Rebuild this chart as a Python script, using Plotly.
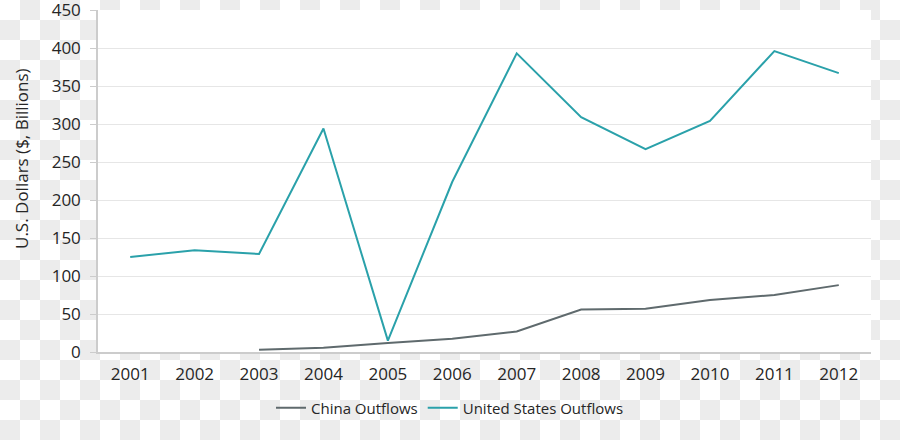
import base64
import plotly.graph_objects as go

years = ["2001", "2002", "2003", "2004", "2005", "2006", "2007", "2008", "2009", "2010", "2011", "2012"]
china_outflows = [None, None, 3, 5.5, 12, 17.5, 27, 56, 57, 68.5, 75, 88]
us_outflows = [125, 134, 129, 294, 15, 224, 393, 309, 267, 304, 396, 367]
y_ticks = [0, 50, 100, 150, 200, 250, 300, 350, 400, 450]

FONT = "Open Sans"
W, H = 900, 440
ML, MR, MT, MB = 98, 29, 10, 88
PW, PH = W - ML - MR, H - MT - MB

svg = ('<svg xmlns="http://www.w3.org/2000/svg" width="900" height="440">'
       '<defs><pattern id="p" x="0" y="0" width="40" height="40" patternUnits="userSpaceOnUse">'
       '<rect width="40" height="40" fill="#ffffff"/>'
       '<rect x="20" y="0" width="20" height="20" fill="#ececec"/>'
       '<rect x="0" y="20" width="20" height="20" fill="#ececec"/>'
       '</pattern></defs><rect width="900" height="440" fill="url(#p)"/></svg>')
uri = "data:image/svg+xml;base64," + base64.b64encode(svg.encode()).decode()

fig = go.Figure()
fig.add_trace(go.Scatter(x=years, y=china_outflows, mode="lines", name="China Outflows",
                         line=dict(color="#5f6a6d", width=2), connectgaps=False))
fig.add_trace(go.Scatter(x=years, y=us_outflows, mode="lines", name="United States Outflows",
                         line=dict(color="#2aa1aa", width=2)))

fig.update_layout(
    width=W, height=H,
    margin=dict(l=ML, r=MR, t=MT, b=MB, autoexpand=False),
    paper_bgcolor="rgba(0,0,0,0)",
    plot_bgcolor="rgba(0,0,0,0)",
    font=dict(family=FONT, size=16, color="#262626"),
    images=[dict(source=uri, xref="paper", yref="paper",
                 x=-ML / PW, y=1 + MT / PH, sizex=W / PW, sizey=H / PH,
                 sizing="stretch", xanchor="left", yanchor="top", layer="below")],
    shapes=[dict(type="rect", xref="paper", yref="paper", x0=0, x1=1, y0=0, y1=1,
                 fillcolor="#ffffff", line=dict(width=0), layer="below")],
    xaxis=dict(type="category", range=[-0.5, 11.5], showgrid=False, automargin=False,
               showline=True, linecolor="#cccccc", linewidth=1.5,
               ticks="", ticklabelstandoff=6, tickfont=dict(size=17, color="#262626")),
    yaxis=dict(range=[0, 450], tickvals=y_ticks, showgrid=True, gridcolor="#e6e6e6",
               gridwidth=1, showline=True, linecolor="#cccccc", linewidth=1.5,
               ticks="outside", ticklen=6, tickcolor="#cccccc", zeroline=False,
               automargin=False, ticklabelstandoff=6, ticklabeloverflow="allow",
               tickfont=dict(size=17, color="#262626")),
    showlegend=True,
    legend=dict(orientation="h", x=(450 - ML) / PW, xanchor="center",
                y=(352 - 408) / PH, yanchor="middle",
                bgcolor="rgba(0,0,0,0)", font=dict(size=15, color="#262626")),
    annotations=[dict(text="U.S. Dollars ($, Billions)", xref="paper", yref="paper",
                      x=(22 - ML) / PW, y=(352 - 159) / PH, textangle=-90, showarrow=False,
                      xanchor="center", yanchor="middle",
                      font=dict(size=17, color="#262626"))],
)

fig.write_html("out.html", config={"displayModeBar": False},
               post_script="document.body.style.margin='0';")
